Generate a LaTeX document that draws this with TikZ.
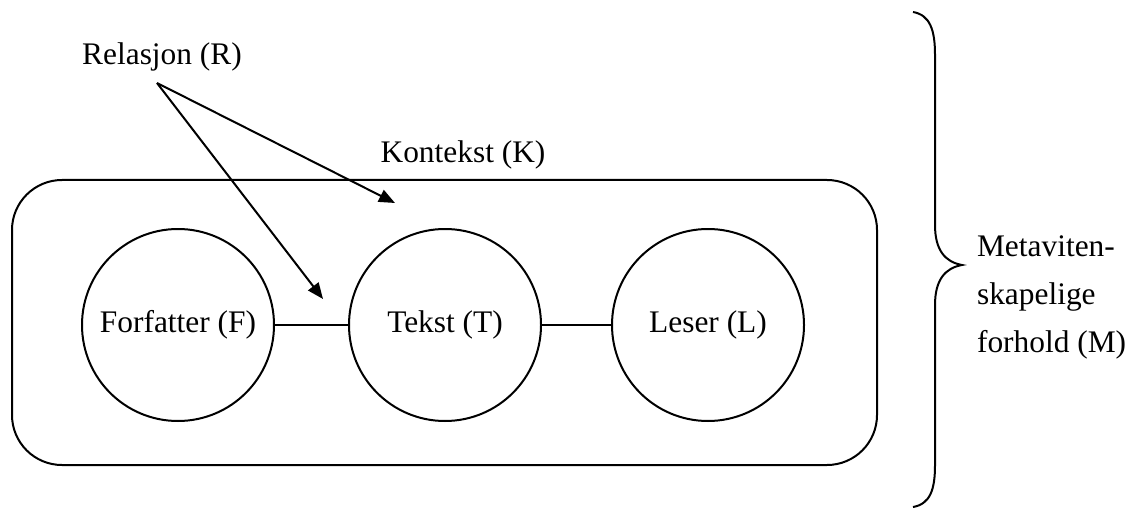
\documentclass[tikz,border=0pt]{standalone}
\usepackage{fontspec}
\setmainfont{Liberation Serif}
\usetikzlibrary{arrows.meta}
\begin{document}
\begin{tikzpicture}[x=0.5pt,y=-0.5pt,
  every node/.style={font=\fontsize{15.7}{24}\selectfont},
  line/.style={line width=1pt},
  ent/.style={line, draw, circle, minimum size=96pt, inner sep=0pt},
  ptr/.style={line, -{Triangle[length=8pt,width=6.5pt]}}]
\useasboundingbox (0,0) rectangle (1133,513);
% context frame
\node[line, draw, rectangle, rounded corners=25pt, minimum width=432.5pt,
      minimum height=142.5pt, inner sep=0pt] (frame) at (444.5,322.5) {};
\node (kontekst) at (463,155) {Kontekst (K)};
% the three parties
\node[ent] (F) at (178,325) {Forfatter (F)};
\node[ent] (T) at (445,325) {Tekst (T)};
\node[ent] (L) at (708,325) {Leser (L)};
\draw[line] (F) -- (T);
\draw[line] (T) -- (L);
% relation arrows
\node (rel) at (162,57) {Relasjon (R)};
\coordinate (r0) at (157,83);
\coordinate (r1) at (323,299);
\coordinate (r2) at (395,203);
\draw[ptr] (r0) -- (r1);
\draw[ptr] (r0) -- (r2);
% brace for the meta-scientific level
\coordinate (btop) at (913,12);
\coordinate (btip) at (962,265);
\coordinate (bbot) at (913,507);
\draw[line] (btop) .. controls (930,15) and (935,30) .. (935,55)
  -- (935,225) .. controls (935,250) and (945,262) .. (btip)
  .. controls (945,268) and (935,280) .. (935,305)
  -- (935,465) .. controls (935,490) and (930,504) .. (bbot);
\node[anchor=west, align=left] (meta) at (970,297) {Metaviten-\\skapelige\\forhold (M)};
\end{tikzpicture}
\end{document}
